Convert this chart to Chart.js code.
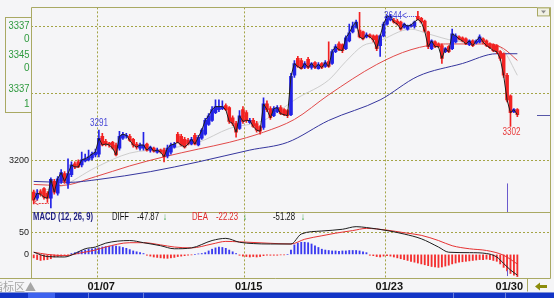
<!DOCTYPE html>
<html><head><meta charset="utf-8">
<script src="https://cdn.jsdelivr.net/npm/chart.js@4/dist/chart.umd.min.js"></script>
<style>
html,body{margin:0;padding:0;background:#f5f5f7;width:554px;height:298px;overflow:hidden;}
#wrap{position:absolute;left:0;top:0;width:554px;height:292px;}
#strip{position:absolute;left:0;top:292px;width:554px;height:6px;background:#1234c6;border-top:1px solid #7d8fd8;box-sizing:border-box;}
#tab{position:absolute;left:28px;top:0;width:27px;height:5px;background:#3d62ef;}
.sep{position:absolute;top:0;width:1px;height:5px;background:#6a80dc;}
</style></head><body>
<div id="wrap"><canvas id="c" width="554" height="292"></canvas></div>
<div id="strip"><div id="tab"></div><div class="sep" style="left:88px"></div><div class="sep" style="left:143px"></div><div class="sep" style="left:453px"></div><div class="sep" style="left:505px"></div></div>
<script>
// ---- data ----
const OPEN = [3107,3089,3109,3118,3104,3089,3139,3104,3139,3162,
3133,3159,3191,3197,3188,3200,3203,3209,3218,3220,
3273,3258,3253,3255,3247,3238,3267,3273,3273,3264,
3250,3238,3238,3250,3232,3238,3226,3232,3232,3215,
3226,3241,3279,3273,3264,3261,3250,3276,3247,3267,
3279,3308,3320,3343,3352,3355,3364,3358,3328,3311,
3296,3352,3343,3314,3320,3311,3302,3299,3369,3355,
3334,3346,3358,3352,3349,3337,3454,3504,3498,3477,
3501,3477,3492,3474,3489,3480,3495,3489,3524,3547,
3545,3533,3556,3583,3597,3588,3583,3568,3574,3571,
3571,3542,3571,3606,3618,3618,3615,3612,3597,3591,
3600,3600,3629,3623,3615,3583,3533,3553,3547,3542,
3524,3539,3533,3553,3568,3565,3562,3545,3556,3550,
3553,3562,3556,3547,3545,3542,3524,3518,3454,3393,
3346,3352];
const CLOSE = [3083,3104,3101,3092,3089,3145,3107,3147,3165,3139,
3162,3188,3182,3182,3203,3206,3212,3220,3226,3267,
3247,3250,3247,3238,3218,3273,3279,3276,3261,3247,
3241,3247,3247,3232,3241,3229,3232,3226,3212,3238,
3247,3250,3255,3247,3241,3250,3264,3250,3270,3291,
3320,3334,3352,3361,3361,3361,3352,3317,3311,3285,
3334,3317,3320,3320,3302,3291,3288,3369,3352,3328,
3355,3358,3340,3337,3334,3451,3489,3480,3474,3489,
3477,3489,3477,3486,3477,3492,3480,3524,3539,3530,
3527,3565,3580,3600,3612,3568,3562,3574,3568,3559,
3533,3571,3606,3629,3629,3612,3606,3591,3606,3600,
3603,3612,3620,3612,3585,3539,3556,3539,3539,3504,
3533,3524,3577,3571,3562,3556,3547,3556,3542,3556,
3568,3553,3542,3536,3527,3524,3504,3454,3381,3343,
3352,3337];
const HIGH = [3113,3115,3115,3121,3109,3150,3145,3153,3174,3168,
3206,3197,3197,3203,3226,3220,3232,3226,3235,3291,
3282,3264,3255,3258,3253,3288,3285,3282,3279,3267,
3255,3253,3285,3253,3244,3241,3238,3235,3238,3247,
3253,3255,3285,3279,3270,3267,3270,3282,3276,3296,
3326,3340,3361,3381,3381,3378,3369,3361,3334,3317,
3349,3361,3349,3326,3326,3317,3305,3387,3378,3361,
3361,3364,3364,3355,3352,3460,3498,3510,3504,3495,
3507,3492,3495,3492,3492,3498,3553,3530,3545,3553,
3547,3571,3606,3612,3618,3641,3585,3580,3577,3574,
3574,3574,3612,3632,3635,3623,3620,3615,3609,3603,
3606,3615,3644,3626,3618,3585,3559,3556,3550,3547,
3536,3542,3591,3577,3571,3568,3565,3559,3559,3559,
3574,3565,3559,3550,3547,3545,3527,3521,3460,3396,
3355,3355];
const LOW = [3072,3083,3095,3086,3077,3060,3101,3098,3133,3133,
3118,3153,3177,3180,3182,3197,3200,3203,3212,3212,
3244,3244,3241,3235,3215,3232,3264,3267,3258,3241,
3235,3232,3232,3229,3226,3226,3223,3223,3197,3209,
3220,3238,3253,3244,3238,3247,3247,3247,3244,3264,
3276,3305,3317,3340,3346,3352,3349,3311,3305,3270,
3293,3311,3314,3311,3299,3285,3279,3293,3346,3323,
3331,3343,3337,3334,3328,3334,3448,3477,3472,3474,
3474,3472,3474,3472,3474,3477,3477,3486,3521,3527,
3521,3530,3553,3580,3594,3565,3559,3565,3565,3553,
3527,3510,3568,3603,3615,3609,3603,3588,3594,3588,
3597,3594,3618,3609,3583,3533,3530,3536,3536,3489,
3521,3521,3530,3550,3559,3553,3545,3542,3539,3547,
3550,3547,3539,3533,3524,3518,3498,3448,3375,3302,
3343,3331];
// moving averages: [bar index, value]
const MA_GRAY = [[0,3109],[8,3124],[18,3180],[28,3223],[38,3235],[48,3255],[57,3296],[67,3320],[77,3387],[86,3440],[91,3495],[96,3542],[100,3553],[110,3591],[115,3577],[123,3556],[133,3547],[137,3527],[141,3454]];
const MA_RED = [[0,3130],[8,3127],[18,3153],[28,3185],[38,3212],[48,3235],[57,3255],[67,3285],[76,3323],[86,3396],[100,3486],[110,3530],[120,3547],[133,3547],[137,3533],[141,3498]];
const MA_BLUE = [[0,3139],[10,3136],[19,3145],[34,3168],[48,3197],[63,3232],[74,3255],[86,3320],[101,3381],[112,3451],[125,3489],[135,3518],[141,3518]];
// MACD
const MACD_HIST = [-8,-12,-14,-13,-12,-10,-6,-5,-4,-3,-2,2,4,6,8,10,12,13,14,15,
17,18,19,20,19,18,16,14,11,8,6,4,2,-2,-4,-6,-7,-8,-9,-9,
-8,-7,-5,-4,-3,-2,-1,0,1,2,4,8,12,15,17,16,14,10,6,2,
-2,-4,-5,-6,-5,-6,-5,-3,-2,-2,-2,-2,-1,-1,0,10,22,26,28,28,
27,24,20,16,12,10,9,8,8,7,8,8,9,9,9,8,6,4,-2,-3,
-5,-6,-4,-3,-4,-6,-8,-10,-12,-14,-16,-18,-20,-22,-24,-26,-28,-29,-30,-29,
-27,-25,-22,-20,-18,-17,-16,-15,-14,-13,-12,-12,-11,-12,-14,-16,-22,-30,-38,-44,
-48,-51.28];
const DIFF = [[0,5],[4,-5],[9,-6],[12,2],[15,13],[18,17],[21,26],[28,32],[32,27],[37,20],[41,13],[46,15],[52,32],[56,37],[60,28],[64,25],[69,24],[75,24],[78,47],[84,54],[90,58],[94,64],[97,62],[103,55],[108,47],[113,36],[118,17],[121,5],[127,4],[132,2],[135,-6],[137,-21],[139,-36],[141,-47.87]];
const DEA = [[0,5],[4,0],[9,-3],[14,4],[18,10],[21,17],[28,27],[32,27],[37,22],[41,17],[46,15],[52,24],[56,30],[60,29],[68,26],[75,24],[79,35],[84,43],[88,49],[93,55],[97,60],[103,56],[108,50],[113,44],[118,32],[122,20],[127,13],[132,9],[137,-2],[141,-22.23]];
// axes
const DATE_LABELS = ['01/07','01/15','01/23','01/30'];
const DATE_START = [19,62,103,138];
const PRICE_TICKS = [3200,3400,3600];
const MACD_TICKS = [0,50];
const INFO_LABELS = ['3337','0','3345','0','3337','1'];

// ---- style ----
const BG = '#f5f5f7';
const GRID = '#a4a446';
const FRAME = '#a9a963';
const UP = '#2222e6';
const DOWN = '#f22222';
const SANS = '"Liberation Sans",sans-serif';

const idx = OPEN.map((_, i) => i);
const candleColor = c => CLOSE[c.dataIndex] >= OPEN[c.dataIndex] ? UP : DOWN;
const pts = a => a.map(([x, y]) => ({x, y}));

// draw text squeezed horizontally to a given width
function fitText(ctx, t, x, y, w, align) {
  const m = ctx.measureText(t).width;
  const k = Math.min(1, w / m);
  ctx.save();
  ctx.translate(x, y); ctx.scale(k, 1);
  ctx.textAlign = align || 'left';
  ctx.fillText(t, 0, 0);
  ctx.restore();
}

const decor = {
  id: 'decor',
  beforeDraw(chart) {
    const {ctx, width, height} = chart;
    ctx.save(); ctx.fillStyle = BG; ctx.fillRect(0, 0, width, height); ctx.restore();
  },
  beforeDatasetsDraw(chart) {
    const {ctx, chartArea: a, scales: {y}} = chart;
    ctx.save();
    ctx.strokeStyle = FRAME; ctx.lineWidth = 1;
    const L = Math.round(a.left) + 0.5, R = Math.round(a.right) - 0.5;
    const T = Math.round(a.top) + 0.5, B = Math.round(a.bottom) + 0.5, S = Math.round(y.bottom) + 0.5;
    ctx.beginPath();
    ctx.moveTo(L, T); ctx.lineTo(R, T); ctx.lineTo(R, B);
    ctx.moveTo(L, T); ctx.lineTo(L, B);
    ctx.moveTo(0, B); ctx.lineTo(R, B);
    ctx.moveTo(L, S); ctx.lineTo(R, S);
    ctx.moveTo(R - 23, B); ctx.lineTo(R - 23, B + 13);
    ctx.stroke();
    ctx.strokeRect(5.5, T + 10, L - 5.5, 95);
    ctx.restore();
  },
  afterDraw(chart) {
    const {ctx, chartArea: a, scales: {x, y, y2}} = chart;
    ctx.save();
    ctx.textBaseline = 'middle';
    // left green info labels
    ctx.font = '10px ' + SANS;
    ctx.fillStyle = '#2e9a3e';
    const offs = [19, 32, 48, 61, 82, 97];
    INFO_LABELS.forEach((t, k) => fitText(ctx, t, 29.5, a.top + offs[k], 21, 'right'));
    // high annotation
    ctx.font = '10px ' + SANS;
    const hiI = HIGH.indexOf(Math.max(...HIGH));
    const xh = x.getPixelForValue(hiI), yh = y.getPixelForValue(HIGH[hiI]) + 5;
    ctx.fillStyle = '#4646d6';
    fitText(ctx, String(HIGH[hiI]), xh - 16, yh, 18, 'right');
    fitText(ctx, '<', xh - 16, yh, 5, 'left');
    ctx.strokeStyle = '#4646d6'; ctx.setLineDash([1, 1]);
    ctx.beginPath(); ctx.moveTo(xh - 11, Math.round(yh) + 0.5); ctx.lineTo(xh - 2, Math.round(yh) + 0.5); ctx.stroke();
    ctx.setLineDash([]);
    // local high 3291
    const i1 = 19;
    fitText(ctx, String(HIGH[i1]), x.getPixelForValue(i1), y.getPixelForValue(HIGH[i1]) - 7, 18, 'center');
    // recent low 3302
    const loI = 139;
    ctx.fillStyle = '#e83a3a';
    fitText(ctx, String(LOW[loI]), x.getPixelForValue(loI) + 1, y.getPixelForValue(LOW[loI]) + 6, 18, 'center');
    // first low marker
    const yl = Math.round(y.getPixelForValue(LOW[0])) - 0.5;
    const xl = x.getPixelForValue(0);
    fitText(ctx, '<', xl, yl, 5, 'left');
    ctx.strokeStyle = '#e83a3a'; ctx.setLineDash([2, 1]);
    ctx.beginPath(); ctx.moveTo(xl + 5, yl); ctx.lineTo(xl + 15, yl); ctx.stroke();
    ctx.setLineDash([]);
    // current bar marker (purple)
    const xc = Math.round(x.getPixelForValue(DATE_START[3])) + 0.5;
    ctx.strokeStyle = '#6a5acd'; ctx.lineWidth = 1;
    ctx.beginPath();
    ctx.moveTo(xc, y.getPixelForValue(3133)); ctx.lineTo(xc, y.bottom);
    ctx.moveTo(xc, y2.getPixelForValue(-36)); ctx.lineTo(xc, y2.getPixelForValue(-50));
    ctx.stroke();
    // last price marker on right
    const yp = Math.round(y.getPixelForValue(CLOSE[CLOSE.length - 1])) + 0.5;
    ctx.strokeStyle = '#5656a8';
    ctx.beginPath(); ctx.moveTo(a.right - 14, yp); ctx.lineTo(a.right - 1, yp); ctx.stroke();
    // top-right small button
    ctx.fillStyle = '#f0f0e4'; ctx.strokeStyle = FRAME;
    ctx.fillRect(a.right - 14, a.top, 13, 8); ctx.strokeRect(a.right - 13.5, a.top + 0.5, 12, 8);
    ctx.fillStyle = '#8a8a8a';
    ctx.beginPath(); ctx.moveTo(a.right - 10, a.top + 3); ctx.lineTo(a.right - 5, a.top + 3); ctx.lineTo(a.right - 7.5, a.top + 6); ctx.closePath(); ctx.fill();
    // MACD header
    const hy = y.bottom + 5.5;
    ctx.font = 'bold 10px ' + SANS; ctx.fillStyle = '#1c1c80';
    fitText(ctx, 'MACD (12, 26, 9)', 33, hy, 60);
    ctx.font = '10px ' + SANS;
    const lastD = DIFF[DIFF.length - 1][1], lastE = DEA[DEA.length - 1][1], lastM = MACD_HIST[MACD_HIST.length - 1];
    ctx.fillStyle = '#111'; fitText(ctx, 'DIFF', 112, hy, 17); fitText(ctx, lastD.toFixed(2), 137, hy, 22);
    ctx.fillStyle = '#e02828'; fitText(ctx, 'DEA', 192, hy, 16); fitText(ctx, lastE.toFixed(2), 216, hy, 22);
    ctx.fillStyle = '#111'; fitText(ctx, lastM.toFixed(2), 273, hy, 22);
    ctx.fillStyle = '#1f9a2a';
    fitText(ctx, '↓', 163, hy, 4); fitText(ctx, '↓', 243, hy, 4); fitText(ctx, '↓', 301, hy, 4);
    // bottom-left label
    ctx.font = '11px "Noto Sans CJK SC",sans-serif'; ctx.fillStyle = '#a6a6a6';
    ctx.fillText('指标区▲', -8, a.bottom + 9);
    // bottom-right arrow
    const ay = a.bottom + 8.5, ax = a.right - 16;
    ctx.fillStyle = '#8c8c0c';
    ctx.beginPath();
    ctx.moveTo(ax, ay); ctx.lineTo(ax + 5, ay - 4); ctx.lineTo(ax + 5, ay - 1.5); ctx.lineTo(ax + 12, ay - 1.5);
    ctx.lineTo(ax + 12, ay + 1.5); ctx.lineTo(ax + 5, ay + 1.5); ctx.lineTo(ax + 5, ay + 4); ctx.closePath(); ctx.fill();
    ctx.restore();
  }
};

new Chart(document.getElementById('c'), {
  type: 'bar',
  data: {
    datasets: [
      {type: 'line', data: pts(MA_BLUE), yAxisID: 'y', borderColor: '#36369e', borderWidth: 1, pointRadius: 0, cubicInterpolationMode: 'monotone', order: 6},
      {type: 'line', data: pts(MA_RED), yAxisID: 'y', borderColor: '#e24a4a', borderWidth: 1, pointRadius: 0, cubicInterpolationMode: 'monotone', order: 6},
      {type: 'line', data: pts(MA_GRAY), yAxisID: 'y', borderColor: '#cdcdcd', borderWidth: 1, pointRadius: 0, cubicInterpolationMode: 'monotone', order: 6},
      {type: 'bar', data: idx.map(i => ({x: i, y: [LOW[i], HIGH[i]]})), yAxisID: 'y', barThickness: 1, grouped: false, backgroundColor: candleColor, order: 3},
      {type: 'bar', data: idx.map(i => ({x: i, y: [OPEN[i], CLOSE[i]]})), yAxisID: 'y', barThickness: 3, minBarLength: 1, grouped: false, backgroundColor: candleColor, order: 2},
      {type: 'line', data: idx.map(i => ({x: i, y: CLOSE[i]})), yAxisID: 'y', borderColor: '#1e1e1e', borderWidth: 1, pointRadius: 0, order: 1},
      {type: 'bar', data: idx.map(i => ({x: i, y: MACD_HIST[i]})), yAxisID: 'y2', barThickness: 1.2, grouped: false, backgroundColor: c => MACD_HIST[c.dataIndex] >= 0 ? '#3a3af0' : '#f42e2e', order: 3},
      {type: 'line', data: pts(DEA), yAxisID: 'y2', borderColor: '#e63232', borderWidth: 1, pointRadius: 0, cubicInterpolationMode: 'monotone', order: 1},
      {type: 'line', data: pts(DIFF), yAxisID: 'y2', borderColor: '#1e1e1e', borderWidth: 1, pointRadius: 0, cubicInterpolationMode: 'monotone', order: 0}
    ]
  },
  options: {
    responsive: false, animation: false, events: [],
    layout: {padding: {left: 0, right: 3, top: 3, bottom: 0}},
    plugins: {legend: {display: false}, tooltip: {enabled: false}},
    scales: {
      x: {
        type: 'linear', min: -0.79, max: 150.81, offset: false,
        afterBuildTicks: s => { s.ticks = DATE_START.map(v => ({value: v - 0.5})); },
        afterFit: s => { s.height = 14; },
        grid: {offset: false, drawTicks: false, lineWidth: 1, color: c => (c.tick && c.tick.value === DATE_START[3] - 0.5) ? 'rgba(0,0,0,0)' : GRID},
        border: {display: false, dash: [2, 2]},
        ticks: {autoSkip: false, maxRotation: 0, padding: 2, labelOffset: 4, color: '#151515',
          font: {family: SANS, size: 11, weight: 'bold'},
          callback: v => { const k = DATE_START.indexOf(Math.round(v + 0.5)); return k >= 0 ? DATE_LABELS[k] : ''; }}
      },
      y2: {
        type: 'linear', position: 'left', stack: 'v', stackWeight: 67, min: -54.5, max: 97.7,
        afterBuildTicks: s => { s.ticks = MACD_TICKS.map(v => ({value: v})); },
        afterFit: s => { s.width = 31; },
        grid: {drawTicks: false, color: c => (c.tick && c.tick.value === 0) ? 'rgba(0,0,0,0)' : GRID},
        border: {display: false, dash: [2, 2]},
        ticks: {padding: 2, color: '#222', font: {family: SANS, size: 9}, callback: v => String(v)}
      },
      y: {
        type: 'linear', position: 'left', stack: 'v', stackWeight: 208, min: 3048, max: 3655.5,
        afterBuildTicks: s => { s.ticks = PRICE_TICKS.map(v => ({value: v})); },
        afterFit: s => { s.width = 31; },
        grid: {drawTicks: false, color: GRID},
        border: {display: false, dash: [2, 2]},
        ticks: {padding: 2, color: '#222', font: {family: SANS, size: 9}, callback: v => v === 3200 ? '3200' : ''}
      }
    }
  },
  plugins: [decor]
});
</script>
</body></html>
